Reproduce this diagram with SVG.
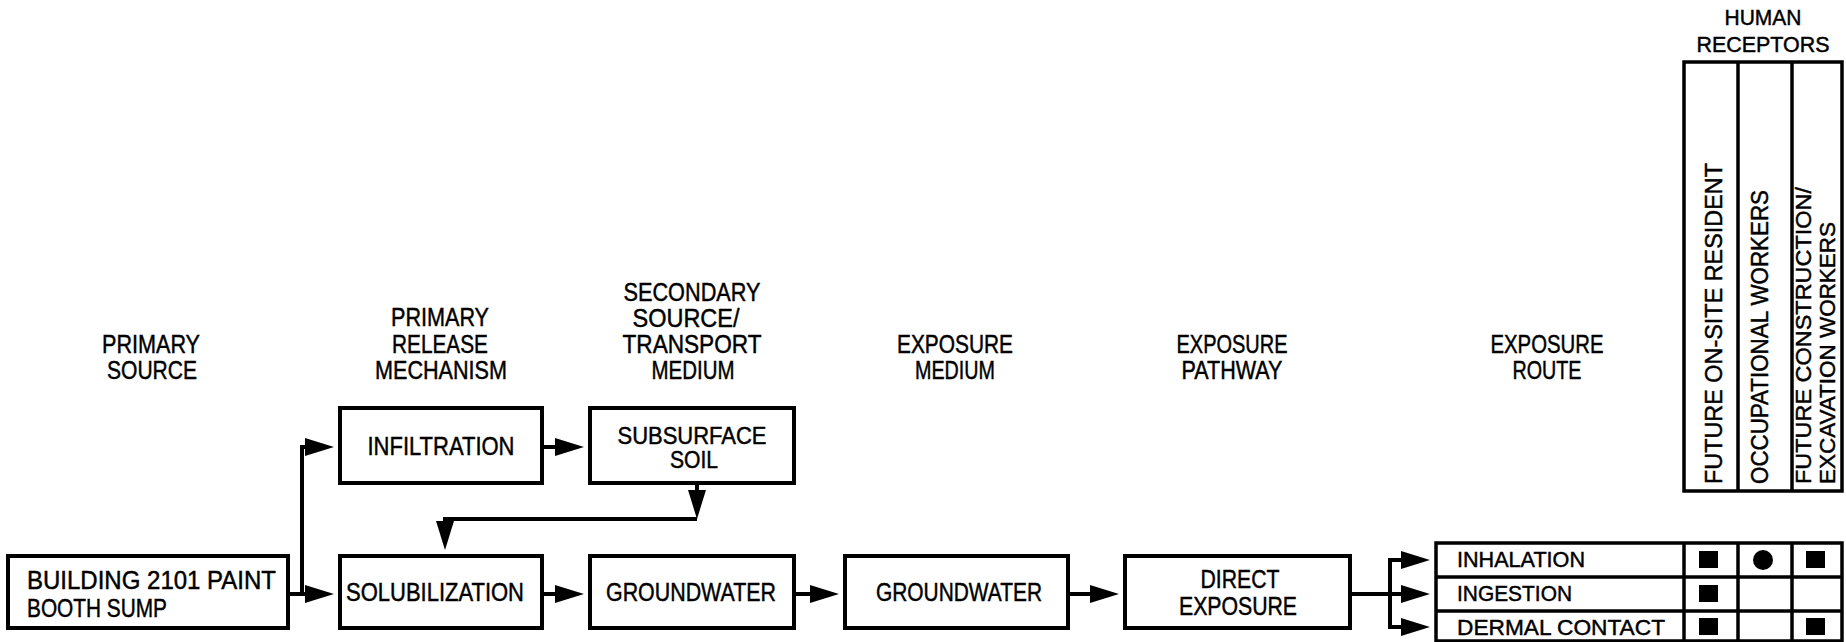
<svg xmlns="http://www.w3.org/2000/svg" width="1846" height="642" viewBox="0 0 1846 642">
<style>
  text { font-family: "Liberation Sans", Arial, sans-serif; fill: #000; stroke: #000; stroke-width: 0.45; }
  .hdr { font-size: 25px; text-anchor: middle; }
  .hr { font-size: 22px; text-anchor: middle; }
  .lbl { font-size: 25px; text-anchor: middle; }
  .lbs { font-size: 23px; text-anchor: middle; }
  .row { font-size: 22px; }
  .vt { font-size: 24px; }
  .vs { font-size: 22px; }
  .box { fill: #fff; stroke: #000; stroke-width: 4; }
  .tbl { fill: none; stroke: #000; stroke-width: 3.5; }
  .cn { fill: none; stroke: #000; stroke-width: 4; }
  .mk { fill: #000; stroke: none; }
</style>
<defs>
  <marker id="ah" markerUnits="userSpaceOnUse" markerWidth="30" markerHeight="20" viewBox="0 0 30 20" refX="18" refY="10" orient="auto">
    <path d="M0,1 L29,10 L0,19 Z" fill="#000"/>
  </marker>
</defs>
<rect width="1846" height="642" fill="#fff"/>

<g id="headers">
  <text class="hdr" x="151" y="353" textLength="98" lengthAdjust="spacingAndGlyphs">PRIMARY</text>
  <text class="hdr" x="152" y="379" textLength="90" lengthAdjust="spacingAndGlyphs">SOURCE</text>
  <text class="hdr" x="440" y="326" textLength="98" lengthAdjust="spacingAndGlyphs">PRIMARY</text>
  <text class="hdr" x="440" y="353" textLength="96" lengthAdjust="spacingAndGlyphs">RELEASE</text>
  <text class="hdr" x="441" y="379" textLength="132" lengthAdjust="spacingAndGlyphs">MECHANISM</text>
  <text class="hdr" x="692" y="301" textLength="137" lengthAdjust="spacingAndGlyphs">SECONDARY</text>
  <text class="hdr" x="686" y="327" textLength="107" lengthAdjust="spacingAndGlyphs">SOURCE/</text>
  <text class="hdr" x="692" y="353" textLength="139" lengthAdjust="spacingAndGlyphs">TRANSPORT</text>
  <text class="hdr" x="693" y="379" textLength="83" lengthAdjust="spacingAndGlyphs">MEDIUM</text>
  <text class="hdr" x="955" y="353" textLength="116" lengthAdjust="spacingAndGlyphs">EXPOSURE</text>
  <text class="hdr" x="955" y="379" textLength="80" lengthAdjust="spacingAndGlyphs">MEDIUM</text>
  <text class="hdr" x="1232" y="353" textLength="111" lengthAdjust="spacingAndGlyphs">EXPOSURE</text>
  <text class="hdr" x="1232" y="379" textLength="101" lengthAdjust="spacingAndGlyphs">PATHWAY</text>
  <text class="hdr" x="1547" y="353" textLength="113" lengthAdjust="spacingAndGlyphs">EXPOSURE</text>
  <text class="hdr" x="1547" y="379" textLength="69" lengthAdjust="spacingAndGlyphs">ROUTE</text>
  <text class="hr" x="1763" y="25" textLength="77" lengthAdjust="spacingAndGlyphs">HUMAN</text>
  <text class="hr" x="1763" y="52" textLength="133" lengthAdjust="spacingAndGlyphs">RECEPTORS</text>
</g>

<g id="connectors">
  <path class="cn" d="M288,594 L323,594" marker-end="url(#ah)"/>
  <path class="cn" d="M302,594 L302,447 L323,447" marker-end="url(#ah)"/>
  <path class="cn" d="M542,447 L573,447" marker-end="url(#ah)"/>
  <path class="cn" d="M697,483 L697,508" marker-end="url(#ah)"/>
  <path class="cn" d="M697,519 L445,519 L445,539" marker-end="url(#ah)"/>
  <path class="cn" d="M542,594 L573,594" marker-end="url(#ah)"/>
  <path class="cn" d="M794,594 L828,594" marker-end="url(#ah)"/>
  <path class="cn" d="M1068,594 L1108,594" marker-end="url(#ah)"/>
  <path class="cn" d="M1350,594 L1419,594" marker-end="url(#ah)"/>
  <path class="cn" d="M1390,560 L1390,627"/>
  <path class="cn" d="M1388,560 L1419,560" marker-end="url(#ah)"/>
  <path class="cn" d="M1388,627 L1419,627" marker-end="url(#ah)"/>
</g>

<g id="building">
  <rect class="box" x="8" y="556" width="280" height="72"/>
  <text x="27" y="589" font-size="25" textLength="249" lengthAdjust="spacingAndGlyphs">BUILDING 2101 PAINT</text>
  <text x="27" y="617" font-size="25" textLength="140" lengthAdjust="spacingAndGlyphs">BOOTH SUMP</text>
</g>
<g id="infiltration">
  <rect class="box" x="340" y="408" width="202" height="75"/>
  <text class="lbl" x="441" y="455" textLength="147" lengthAdjust="spacingAndGlyphs">INFILTRATION</text>
</g>
<g id="subsurface-soil">
  <rect class="box" x="590" y="408" width="204" height="75"/>
  <text class="lbs" x="692" y="444" textLength="149" lengthAdjust="spacingAndGlyphs">SUBSURFACE</text>
  <text class="lbs" x="694" y="468" textLength="48" lengthAdjust="spacingAndGlyphs">SOIL</text>
</g>
<g id="solubilization">
  <rect class="box" x="340" y="556" width="202" height="72"/>
  <text class="lbl" x="435" y="601" textLength="178" lengthAdjust="spacingAndGlyphs">SOLUBILIZATION</text>
</g>
<g id="groundwater-1">
  <rect class="box" x="590" y="556" width="204" height="72"/>
  <text class="lbl" x="691" y="601" textLength="170" lengthAdjust="spacingAndGlyphs">GROUNDWATER</text>
</g>
<g id="groundwater-2">
  <rect class="box" x="845" y="556" width="223" height="72"/>
  <text class="lbl" x="959" y="601" textLength="166" lengthAdjust="spacingAndGlyphs">GROUNDWATER</text>
</g>
<g id="direct-exposure">
  <rect class="box" x="1125" y="556" width="225" height="72"/>
  <text class="lbl" x="1240" y="588" textLength="79" lengthAdjust="spacingAndGlyphs">DIRECT</text>
  <text class="lbl" x="1238" y="615" textLength="118" lengthAdjust="spacingAndGlyphs">EXPOSURE</text>
</g>

<g id="receptors">
  <rect class="tbl" x="1684" y="62" width="158" height="429" stroke-width="4"/>
  <line class="tbl" x1="1738" y1="62" x2="1738" y2="491" stroke-width="4"/>
  <line class="tbl" x1="1792" y1="62" x2="1792" y2="491" stroke-width="4"/>
  <text class="vt" transform="translate(1722,484) rotate(-90)" textLength="321" lengthAdjust="spacingAndGlyphs">FUTURE ON-SITE RESIDENT</text>
  <text class="vt" transform="translate(1768,484) rotate(-90)" textLength="294" lengthAdjust="spacingAndGlyphs">OCCUPATIONAL WORKERS</text>
  <text class="vs" transform="translate(1811,484) rotate(-90)" textLength="297" lengthAdjust="spacingAndGlyphs">FUTURE CONSTRUCTION/</text>
  <text class="vs" transform="translate(1835,484) rotate(-90)" textLength="262" lengthAdjust="spacingAndGlyphs">EXCAVATION WORKERS</text>
</g>

<g id="exposure-routes">
  <rect class="tbl" x="1436" y="543" width="406" height="98"/>
  <line class="tbl" x1="1436" y1="577" x2="1842" y2="577"/>
  <line class="tbl" x1="1436" y1="611" x2="1842" y2="611"/>
  <line class="tbl" x1="1684" y1="543" x2="1684" y2="641"/>
  <line class="tbl" x1="1738" y1="543" x2="1738" y2="641"/>
  <line class="tbl" x1="1792" y1="543" x2="1792" y2="641"/>
  <text class="row" x="1457" y="567" textLength="128" lengthAdjust="spacingAndGlyphs">INHALATION</text>
  <text class="row" x="1457" y="601" textLength="115" lengthAdjust="spacingAndGlyphs">INGESTION</text>
  <text class="row" x="1457" y="635" textLength="208" lengthAdjust="spacingAndGlyphs">DERMAL CONTACT</text>
  <rect class="mk" x="1699" y="551" width="19" height="17"/>
  <circle class="mk" cx="1763" cy="560" r="10"/>
  <rect class="mk" x="1806" y="551" width="19" height="17"/>
  <rect class="mk" x="1699" y="585" width="19" height="17"/>
  <rect class="mk" x="1699" y="618" width="19" height="17"/>
  <rect class="mk" x="1806" y="618" width="19" height="17"/>
</g>
</svg>
